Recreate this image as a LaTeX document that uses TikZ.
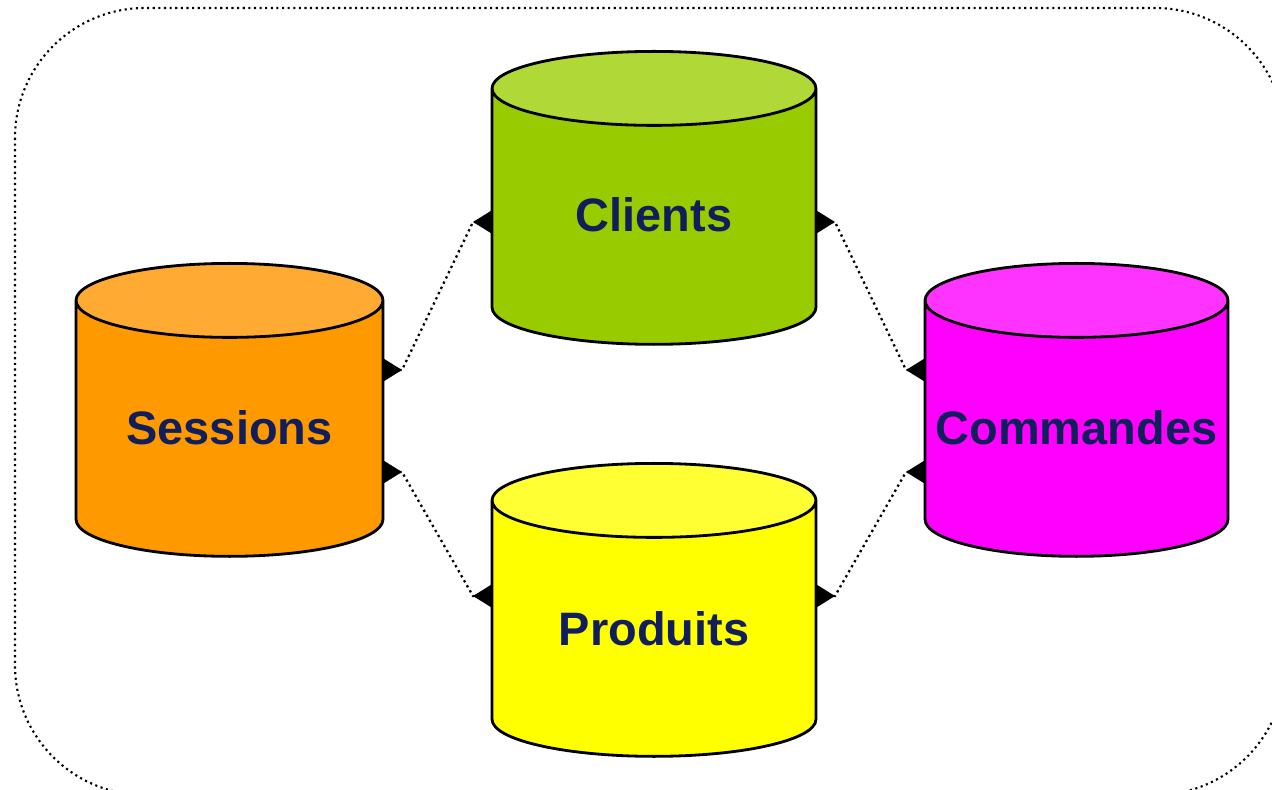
\documentclass[tikz,border=0pt]{standalone}
\usepackage{fontspec}
\setsansfont{Liberation Sans}
\usepackage{xcolor}
\usepackage{tikz}
\usetikzlibrary{shapes.geometric, arrows.meta, positioning}

\definecolor{navy}{HTML}{111E5C}
\definecolor{cliside}{HTML}{99CC00}
\definecolor{clitop}{HTML}{B0D836}
\definecolor{sesside}{HTML}{FF9900}
\definecolor{sestop}{HTML}{FFAA33}
\definecolor{comside}{HTML}{FF00FF}
\definecolor{comtop}{HTML}{FF33FF}
\definecolor{proside}{HTML}{FFFF00}
\definecolor{protop}{HTML}{FFFF33}

\tikzset{
  db/.style={cylinder, shape border rotate=90, draw=black, line width=1.6pt,
    aspect=0.74, text width=2cm, minimum width=6.48cm, minimum height=5.86cm,
    cylinder uses custom fill, inner sep=0pt, anchor=north},
  lbl/.style={font=\sffamily\bfseries\fontsize{26.7}{32}\selectfont, text=navy,
    inner sep=0pt, anchor=base},
  link/.style={dotted, line width=1.3pt,
    {Triangle[reversed,length=0.38cm,width=0.46cm]}-{Triangle[reversed,length=0.38cm,width=0.46cm]}}
}

\begin{document}
\begin{tikzpicture}[x=0.02cm, y=-0.02cm]
    \useasboundingbox (0,0) rectangle (1272,790);

    % Frame
    \draw[dotted, line width=1.2pt, rounded corners=2.6cm] (15,8) rectangle (1285,795);

    % Tables
    \node[db, cylinder body fill=cliside, cylinder end fill=clitop] (cli) at (654,50) {};
    \node[db, cylinder body fill=sesside, cylinder end fill=sestop, minimum width=6.14cm] (ses) at (229.5,262) {};
    \node[db, cylinder body fill=comside, cylinder end fill=comtop, minimum width=6.06cm] (com) at (1076.5,262) {};
    \node[db, cylinder body fill=proside, cylinder end fill=protop] (pro) at (654,462) {};

    % Names
    \node[lbl] (cli-t) at ([shift={(0,182)}]cli.north) {Clients};
    \node[lbl] (ses-t) at ([shift={(0,183)}]ses.north) {Sessions};
    \node[lbl] (com-t) at ([shift={(0,183)}]com.north) {Commandes};
    \node[lbl] (pro-t) at ([shift={(0,183)}]pro.north) {Produits};

    % Links
    \draw[link] ([shift={(153.5,108)}]ses.north) -- ++(19,0)
        -- ([shift={(-181,172)}]cli.north) -- ([shift={(-162,172)}]cli.north);
    \draw[link] ([shift={(153.5,210)}]ses.north) -- ++(19,0)
        -- ([shift={(-181,134)}]pro.north) -- ([shift={(-162,134)}]pro.north);
    \draw[link] ([shift={(-151.5,108)}]com.north) -- ++(-19,0)
        -- ([shift={(181,172)}]cli.north) -- ([shift={(162,172)}]cli.north);
    \draw[link] ([shift={(-151.5,210)}]com.north) -- ++(-19,0)
        -- ([shift={(181,134)}]pro.north) -- ([shift={(162,134)}]pro.north);
\end{tikzpicture}
\end{document}
